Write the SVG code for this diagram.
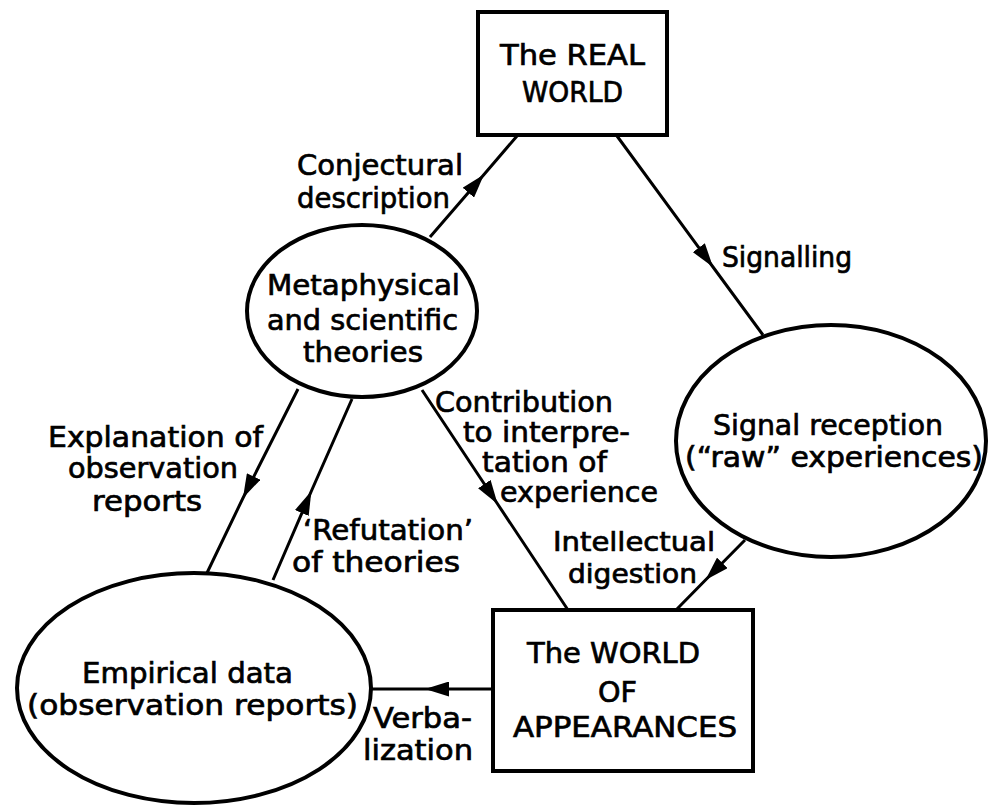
<svg xmlns="http://www.w3.org/2000/svg" width="988" height="805" viewBox="0 0 988 805">
  <style>
    .node { fill: #fff; stroke: #000; stroke-width: 4; }
    .link { fill: none; stroke: #000; stroke-width: 3; marker-mid: url(#arrow); }
    text { font-family: "DejaVu Sans", "Liberation Sans", sans-serif; font-size: 28px; fill: #000; stroke: #000; stroke-width: 0.7; }
    .tight { font-size: 26px; }
  </style>
  <defs>
    <marker id="arrow" viewBox="0 0 24 15" refX="24" refY="7.5" markerWidth="24" markerHeight="15" markerUnits="userSpaceOnUse" orient="auto">
      <path d="M0,0 L24,7.5 L0,15 Z" fill="#000"/>
    </marker>
  </defs>
  <rect width="988" height="805" fill="#fff"/>

  <!-- connectors: each path passes through its arrow tip so marker-mid sits there -->
  <g id="connectors">
    <g id="conjectural-description">
      <path class="link" d="M430,237 L484,174.5 L517,136"/>
      <text x="297" y="175" textLength="166" lengthAdjust="spacingAndGlyphs">Conjectural</text>
      <text x="297" y="208" textLength="153" lengthAdjust="spacingAndGlyphs">description</text>
    </g>
    <g id="signalling">
      <path class="link" d="M617,136 L713,267 L763,335"/>
      <text x="722" y="267" textLength="130" lengthAdjust="spacingAndGlyphs">Signalling</text>
    </g>
    <g id="intellectual-digestion">
      <path class="link" d="M745,540 L705.5,580 L677,609"/>
      <text class="tight" x="553" y="551" textLength="162" lengthAdjust="spacingAndGlyphs">Intellectual</text>
      <text class="tight" x="568" y="583" textLength="129" lengthAdjust="spacingAndGlyphs">digestion</text>
    </g>
    <g id="contribution">
      <path class="link" d="M422,390 L497.6,504 L568,610"/>
      <text x="435" y="412" textLength="178" lengthAdjust="spacingAndGlyphs">Contribution</text>
      <text x="463" y="442" textLength="167" lengthAdjust="spacingAndGlyphs">to interpre-</text>
      <text x="482" y="472" textLength="125" lengthAdjust="spacingAndGlyphs">tation of</text>
      <text x="500" y="502" textLength="158" lengthAdjust="spacingAndGlyphs">experience</text>
    </g>
    <g id="explanation">
      <path class="link" d="M298,389 L243,498 L206,575"/>
      <text x="48" y="447" textLength="215" lengthAdjust="spacingAndGlyphs">Explanation of</text>
      <text x="68" y="478" textLength="170" lengthAdjust="spacingAndGlyphs">observation</text>
      <text x="92" y="511" textLength="110" lengthAdjust="spacingAndGlyphs">reports</text>
    </g>
    <g id="refutation">
      <path class="link" d="M273,580 L311.4,491 L352,399"/>
      <text x="303" y="540" textLength="170" lengthAdjust="spacingAndGlyphs">‘Refutation’</text>
      <text x="292" y="572" textLength="168" lengthAdjust="spacingAndGlyphs">of theories</text>
    </g>
    <g id="verbalization">
      <path class="link" d="M493,689 L425,689 L368,689"/>
      <text x="373" y="728" textLength="99" lengthAdjust="spacingAndGlyphs">Verba-</text>
      <text x="363" y="760" textLength="110" lengthAdjust="spacingAndGlyphs">lization</text>
    </g>
  </g>

  <g id="real-world">
    <rect class="node" x="478" y="12" width="189" height="123"/>
    <text x="500" y="65" textLength="145" lengthAdjust="spacingAndGlyphs">The REAL</text>
    <text x="522" y="102" textLength="101" lengthAdjust="spacingAndGlyphs">WORLD</text>
  </g>

  <g id="theories">
    <ellipse class="node" cx="362" cy="311" rx="115" ry="86"/>
    <text x="267" y="295" textLength="193" lengthAdjust="spacingAndGlyphs">Metaphysical</text>
    <text x="267" y="330" textLength="191" lengthAdjust="spacingAndGlyphs">and scientific</text>
    <text x="303" y="362" textLength="120" lengthAdjust="spacingAndGlyphs">theories</text>
  </g>

  <g id="signal-reception">
    <ellipse class="node" cx="831" cy="441" rx="155" ry="116"/>
    <text x="713" y="435" textLength="230" lengthAdjust="spacingAndGlyphs">Signal reception</text>
    <text x="685" y="467" textLength="298" lengthAdjust="spacingAndGlyphs">(“raw” experiences)</text>
  </g>

  <g id="world-of-appearances">
    <rect class="node" x="493" y="610" width="260" height="161"/>
    <text x="527" y="663" textLength="173" lengthAdjust="spacingAndGlyphs">The WORLD</text>
    <text x="598" y="702" textLength="39" lengthAdjust="spacingAndGlyphs">OF</text>
    <text x="513" y="737" textLength="224" lengthAdjust="spacingAndGlyphs">APPEARANCES</text>
  </g>

  <g id="empirical-data">
    <ellipse class="node" cx="194" cy="688" rx="177" ry="115"/>
    <text x="82" y="683" textLength="211" lengthAdjust="spacingAndGlyphs">Empirical data</text>
    <text x="27" y="715" textLength="331" lengthAdjust="spacingAndGlyphs">(observation reports)</text>
  </g>
</svg>
